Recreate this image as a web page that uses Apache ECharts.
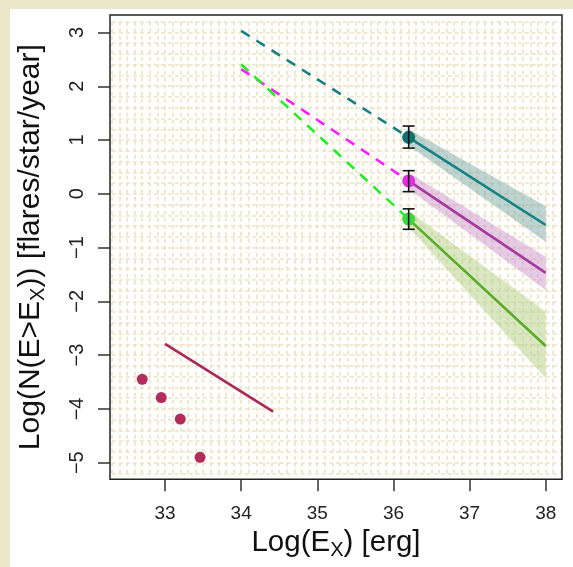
<!DOCTYPE html>
<html>
<head>
<meta charset="utf-8">
<script src="https://cdn.jsdelivr.net/npm/echarts@6/dist/echarts.min.js"></script>
<style>
  html, body { margin: 0; padding: 0; background: #ece7c8; }
  #wrap { position: relative; width: 573px; height: 567px; background: #ece7c8; }
  #chart { position: absolute; left: 10px; top: 9px; width: 563px; height: 558px; background: #ffffff; }
</style>
</head>
<body>
<div id="wrap"><div id="chart"></div></div>
<script>
// Axis ticks
const xTicks = [33, 34, 35, 36, 37, 38];
const yTicks = [-5, -4, -3, -2, -1, 0, 1, 2, 3];

// Observed low-energy flare rates
const obsX = [32.7, 32.95, 33.2, 33.46];
const obsY = [-3.45, -3.79, -4.19, -4.9];

// Low-energy power-law segment
const lowLineX = [33.0, 34.42];
const lowLineY = [-2.79, -4.05];

// Extrapolated (dashed) and fitted (solid) frequency distributions
const dashX = [34, 36.2];
const fitX = [36.2, 38];

const tealDash = [3.03, 1.05];
const tealFit = [1.05, -0.58];
const tealBandLo = [0.90, -0.89];
const tealBandHi = [1.20, -0.23];
const tealErr = [0.85, 1.26];

const magDash = [2.32, 0.24];
const magFit = [0.24, -1.47];
const magBandLo = [0.09, -1.79];
const magBandHi = [0.39, -1.17];
const magErr = [0.04, 0.43];

const grnDash = [2.41, -0.47];
const grnFit = [-0.47, -2.83];
const grnBandLo = [-0.62, -3.43];
const grnBandHi = [-0.32, -2.19];
const grnErr = [-0.66, -0.28];

const pivotX = 36.2;

const zip = (xs, ys) => xs.map((x, i) => [x, ys[i]]);
const minusFmt = v => String(v).replace('-', '\u2212');

function bandSeries(lo, hi, color) {
  return {
    type: 'custom',
    xAxisIndex: 0, yAxisIndex: 0,
    z: 1,
    silent: true,
    data: [[fitX[0], lo[0], hi[0], fitX[1], lo[1], hi[1]]],
    encode: { x: [0, 3], y: [1, 2, 4, 5] },
    renderItem: function (params, api) {
      const a = api.coord([api.value(0), api.value(2)]);
      const b = api.coord([api.value(3), api.value(5)]);
      const c = api.coord([api.value(3), api.value(4)]);
      const d = api.coord([api.value(0), api.value(1)]);
      return { type: 'polygon', shape: { points: [a, b, c, d] }, style: { fill: color } };
    }
  };
}

function lineSeries(xs, ys, color, dashed, z) {
  return {
    type: 'line',
    xAxisIndex: 0, yAxisIndex: 0,
    data: zip(xs, ys),
    showSymbol: false,
    symbol: 'none',
    z: z || 3,
    silent: true,
    lineStyle: { color: color, width: 2.6, type: dashed ? [10, 8] : 'solid', cap: 'butt' }
  };
}

function errSeries(lohi) {
  return {
    type: 'custom',
    xAxisIndex: 0, yAxisIndex: 0,
    z: 6,
    silent: true,
    data: [[pivotX, lohi[0], lohi[1]]],
    encode: { x: 0, y: [1, 2] },
    renderItem: function (params, api) {
      const lo = api.coord([api.value(0), api.value(1)]);
      const hi = api.coord([api.value(0), api.value(2)]);
      const w = 6;
      const st = { stroke: '#111', lineWidth: 1.6 };
      return {
        type: 'group',
        children: [
          { type: 'line', shape: { x1: lo[0], y1: lo[1], x2: hi[0], y2: hi[1] }, style: st },
          { type: 'line', shape: { x1: lo[0] - w, y1: lo[1], x2: lo[0] + w, y2: lo[1] }, style: st },
          { type: 'line', shape: { x1: hi[0] - w, y1: hi[1], x2: hi[0] + w, y2: hi[1] }, style: st }
        ]
      };
    }
  };
}

function pointSeries(xs, ys, color, size) {
  return {
    type: 'scatter',
    xAxisIndex: 0, yAxisIndex: 0,
    data: zip(xs, ys),
    symbol: 'circle',
    symbolSize: size,
    z: 5,
    silent: true,
    itemStyle: { color: color, opacity: 1 }
  };
}

// Decorative background lattice on its own hidden coordinate system
const latticeColor = '#ebe3c4';

const chart = echarts.init(document.getElementById('chart'), null, { renderer: 'canvas' });

const font = 'Liberation Sans, Arial, Helvetica, sans-serif';

chart.setOption({
  animation: false,
  backgroundColor: '#ffffff',
  grid: [
    { left: 100, right: 11, top: 6, bottom: 87.7, show: true, borderColor: '#222', borderWidth: 1.5, backgroundColor: 'transparent', z: 4, outerBoundsMode: 'none', containLabel: false },
    { left: 101.8, right: 12.3, top: 12.7, bottom: 93.5, show: false, outerBoundsMode: 'none', containLabel: false }
  ],
  xAxis: [
    {
      gridIndex: 0, type: 'value', min: 32.277, max: 38.214,
      axisLine: { show: false, onZero: false },
      axisTick: { show: true, customValues: xTicks, length: 12, inside: false, lineStyle: { color: '#333', width: 1.5 } },
      axisLabel: { customValues: xTicks, margin: 25, fontSize: 19, color: '#222', fontFamily: font },
      splitLine: { show: false },
      name: 'Log(E{s|X}) [erg]',
      nameLocation: 'middle',
      nameGap: 46,
      nameTextStyle: { fontSize: 29.5, color: '#111', fontFamily: font, rich: { s: { fontSize: 20, padding: [15, 0, 0, 0], fontFamily: font, color: '#111' } } }
    },
    {
      gridIndex: 1, type: 'value', min: 32.3, max: 38.2, interval: 0.1,
      axisLine: { show: false, onZero: false }, axisTick: { show: false }, axisLabel: { show: false },
      splitLine: { show: true, lineStyle: { color: latticeColor, width: 1.6, type: [4, 3] } }
    }
  ],
  yAxis: [
    {
      gridIndex: 0, type: 'value', min: -5.309, max: 3.325,
      axisLine: { show: false, onZero: false },
      axisTick: { show: true, customValues: yTicks, length: 12, inside: false, lineStyle: { color: '#333', width: 1.5 } },
      axisLabel: { customValues: yTicks, rotate: 90, margin: 23, fontSize: 20, color: '#222', fontFamily: font, formatter: minusFmt },
      splitLine: { show: false },
      name: 'Log(N(E>E{s|X})) [flares/star/year]',
      nameLocation: 'middle',
      nameRotate: 90,
      nameGap: 62,
      nameTextStyle: { fontSize: 30, color: '#111', fontFamily: font, rich: { s: { fontSize: 20, padding: [15, 0, 0, 0], fontFamily: font, color: '#111' } } }
    },
    {
      gridIndex: 1, type: 'value', min: -5.2, max: 3.2, interval: 0.2,
      axisLine: { show: false, onZero: false }, axisTick: { show: false }, axisLabel: { show: false },
      splitLine: { show: true, lineStyle: { color: latticeColor, width: 1.6, type: [4, 3] } }
    }
  ],
  series: [
    bandSeries(tealBandLo, tealBandHi, 'rgba(110,160,158,0.45)'),
    bandSeries(magBandLo, magBandHi, 'rgba(200,140,200,0.45)'),
    bandSeries(grnBandLo, grnBandHi, 'rgba(170,205,120,0.45)'),

    lineSeries(lowLineX, lowLineY, '#a8285a', false),
    lineSeries(dashX, tealDash, '#168080', true),
    lineSeries(dashX, magDash, '#ff1eff', true),
    lineSeries(dashX, grnDash, '#22ee22', true),
    lineSeries(fitX, tealFit, '#148282', false),
    lineSeries(fitX, magFit, '#a63a9c', false),
    lineSeries(fitX, grnFit, '#5aab28', false),

    pointSeries(obsX, obsY, '#b22d5a', 11),
    pointSeries([pivotX], [tealFit[0]], '#127272', 13),
    pointSeries([pivotX], [magFit[0]], '#e12ee1', 13),
    pointSeries([pivotX], [grnFit[0]], '#3cd83c', 13),

    errSeries(tealErr),
    errSeries(magErr),
    errSeries(grnErr)
  ]
});
</script>
</body>
</html>
